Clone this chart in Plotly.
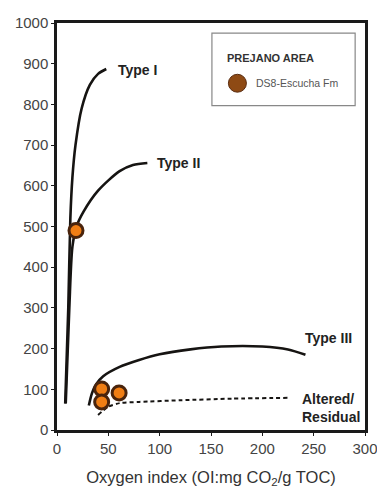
import plotly.graph_objects as go

# Kerogen type evolution curves (OI, HI)
type1_oi = [8, 11, 13, 15, 18, 24, 32, 40, 48]
type1_hi = [65, 300, 520, 620, 700, 790, 848, 875, 887]
type2_oi = [8.5, 12, 15, 19, 26, 40, 61, 74, 88]
type2_hi = [65, 300, 450, 500, 537, 588, 636, 651, 656]
type3_oi = [31, 34, 38, 45, 61, 80, 100, 130, 160, 200, 225, 242]
type3_hi = [60, 90, 112, 132, 155, 172, 186, 198, 205, 205, 198, 185]
resid_oi = [40, 50, 61, 80, 120, 170, 225]
resid_hi = [37, 57, 66, 69, 73, 77, 79]

# Samples: DS8-Escucha Fm
sample_oi = [18.5, 43.5, 43.5, 60.5]
sample_hi = [490, 101, 69, 91]

x_ticks = [0, 50, 100, 150, 200, 250, 300]
y_ticks = [0, 100, 200, 300, 400, 500, 600, 700, 800, 900, 1000]

fig = go.Figure()
line_col = "#161412"
for xs, ys in [(type1_oi, type1_hi), (type2_oi, type2_hi), (type3_oi, type3_hi)]:
    fig.add_trace(go.Scatter(x=xs, y=ys, mode="lines",
                             line=dict(color=line_col, width=2.6, shape="spline", smoothing=0.8),
                             showlegend=False, hoverinfo="skip"))
fig.add_trace(go.Scatter(x=resid_oi, y=resid_hi, mode="lines",
                         line=dict(color=line_col, width=2, dash="4px,3px", shape="spline", smoothing=0.7),
                         showlegend=False, hoverinfo="skip"))
fig.add_trace(go.Scatter(x=sample_oi, y=sample_hi, mode="markers",
                         marker=dict(size=14, color="#F07E14",
                                     line=dict(color="#4A240C", width=3)),
                         showlegend=False))

fnt = "Liberation Sans, Arial, sans-serif"
labels = [
    ("Type I", 57.5, 884),
    ("Type II", 95, 656),
    ("Type III", 240, 226),
]
ann = []
for t, x, y in labels:
    ann.append(dict(x=x, y=y, text="<b>%s</b>" % t, showarrow=False, xanchor="left",
                    font=dict(family=fnt, size=14, color="#222")))
ann.append(dict(x=237, y=53, text="<b>Altered/<br>Residual</b>", showarrow=False, xanchor="left",
                align="left", font=dict(family=fnt, size=14, color="#222")))

# legend box
ann.append(dict(xref="paper", yref="paper", x=0.545, y=0.915, text="<b>PREJANO AREA</b>",
                showarrow=False, xanchor="left", yanchor="middle",
                font=dict(family=fnt, size=11, color="#333")))
ann.append(dict(xref="paper", yref="paper", x=0.640, y=0.852, text="DS8-Escucha Fm",
                showarrow=False, xanchor="left", yanchor="middle",
                font=dict(family=fnt, size=10.5, color="#555")))

shapes = [
    dict(type="rect", xref="paper", yref="paper", x0=0.503, x1=0.968, y0=0.797, y1=0.975,
         line=dict(color="#888", width=1.2), fillcolor="white", layer="below"),
    dict(type="circle", xref="paper", yref="paper", x0=0.5565, x1=0.6150, y0=0.830, y1=0.874,
         line=dict(color="#5A2C10", width=1), fillcolor="#8E4A14"),
]

fig.update_layout(
    width=377, height=488,
    margin=dict(l=57, r=12, t=23, b=58),
    paper_bgcolor="white", plot_bgcolor="white",
    annotations=ann, shapes=shapes,
    xaxis=dict(range=[0, 300], tickvals=x_ticks, showgrid=False, zeroline=False,
               showline=True, linecolor="#1a1a1a", linewidth=2.5, mirror=True,
               ticks="outside", ticklen=3, tickcolor="#1a1a1a", automargin=False,
               ticklabeloverflow="allow",
               tickfont=dict(family=fnt, size=15, color="#444"),
               title=dict(text="Oxygen index (OI:mg CO<sub>2</sub>/g TOC)",
                          font=dict(family=fnt, size=16.5, color="#333"), standoff=20)),
    yaxis=dict(range=[0, 1000], tickvals=y_ticks, showgrid=False, zeroline=False,
               showline=True, linecolor="#1a1a1a", linewidth=2.5, mirror=True,
               ticks="outside", ticklen=3, tickcolor="#1a1a1a", automargin=False,
               ticklabeloverflow="allow",
               tickfont=dict(family=fnt, size=15, color="#444")),
)

fig.write_html("out.html", config={"displayModeBar": False},
               post_script="document.body.style.margin='0';document.body.style.overflow='hidden';")
